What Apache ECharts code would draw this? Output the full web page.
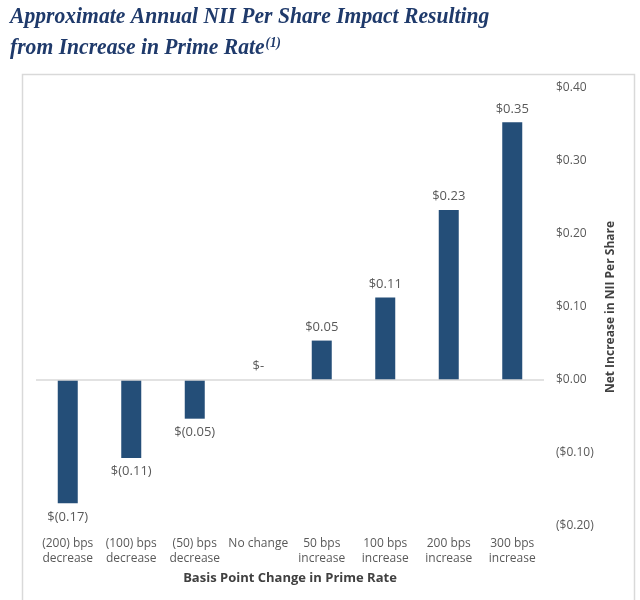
<!DOCTYPE html>
<html><head><meta charset="utf-8">
<script src="https://cdn.jsdelivr.net/npm/echarts@6/dist/echarts.min.js"></script>
<style>html,body{margin:0;padding:0;background:#fff}#c{width:640px;height:600px}</style>
</head><body><div id="c"></div>
<script>
const titleLines = ["Approximate Annual NII Per Share Impact Resulting", "from Increase in Prime Rate"];
const titleNote = "(1)";
const categories = ["(200) bps\ndecrease", "(100) bps\ndecrease", "(50) bps\ndecrease", "No change", "50 bps\nincrease", "100 bps\nincrease", "200 bps\nincrease", "300 bps\nincrease"];
const values = [-0.169, -0.107, -0.053, 0, 0.054, 0.113, 0.233, 0.353];
const valueLabels = ["$(0.17)", "$(0.11)", "$(0.05)", "$-", "$0.05", "$0.11", "$0.23", "$0.35"];
const yTickLabels = {"0.4": "$0.40", "0.3": "$0.30", "0.2": "$0.20", "0.1": "$0.10", "0": "$0.00", "-0.1": "($0.10)", "-0.2": "($0.20)"};
const xAxisTitle = "Basis Point Change in Prime Rate";
const yAxisTitle = "Net Increase in NII Per Share";

const font = "'Open Sans', 'Noto Sans', sans-serif";
const titleFont = "'Liberation Serif', serif";
const chart = echarts.init(document.getElementById('c'), null, {renderer: 'canvas'});
chart.setOption({
  animation: false,
  graphic: [
    {type: 'rect', left: 20, top: 72, shape: {width: 612, height: 540}, style: {fill: 'none', stroke: '#d9d9d9', lineWidth: 1.5}, z: -1},
    {type: 'text', x: 10, y: 6, scaleX: 0.94, style: {text: titleLines[0], fontFamily: titleFont, fontSize: 23, fontStyle: 'italic', fontWeight: 'bold', fill: '#1f3a6b'}},
    {type: 'text', x: 10, y: 36, scaleX: 0.94, style: {
      text: '{a|' + titleLines[1] + '}{b|' + titleNote + '}',
      rich: {
        a: {fontFamily: titleFont, fontSize: 23, fontStyle: 'italic', fontWeight: 'bold', fill: '#1f3a6b', color: '#1f3a6b'},
        b: {fontFamily: titleFont, fontSize: 14, fontStyle: 'italic', fontWeight: 'bold', fill: '#1f3a6b', color: '#1f3a6b', verticalAlign: 'top', padding: [0, 0, 10, 1]}
      }
    }}
  ],
  grid: {left: 36, right: 96, top: 88, bottom: 74},
  xAxis: {
    type: 'category', data: categories, position: 'bottom',
    axisLine: {show: false, onZero: false}, axisTick: {show: false},
    axisLabel: {color: '#595959', fontSize: 12, fontFamily: font, margin: 10, lineHeight: 15, interval: 0},
    name: xAxisTitle, nameLocation: 'middle', nameGap: 46,
    nameTextStyle: {color: '#404040', fontSize: 13, fontWeight: 'bold', fontFamily: font}
  },
  yAxis: {
    type: 'value', position: 'right', min: -0.2, max: 0.4, interval: 0.1,
    splitLine: {show: false}, axisLine: {show: false}, axisTick: {show: false},
    axisLabel: {color: '#595959', fontSize: 12, fontFamily: font, margin: 12,
      formatter: v => yTickLabels[String(Math.round(v * 10) / 10)] || ''},
    name: yAxisTitle, nameLocation: 'middle', nameGap: 48, nameRotate: 90,
    nameTextStyle: {color: '#404040', fontSize: 12, fontWeight: 'bold', fontFamily: font}
  },
  series: [{
    type: 'bar', barWidth: 20,
    data: values.map(v => ({value: v, label: {position: v < 0 ? 'bottom' : 'top'}})),
    itemStyle: {color: '#244e78'},
    label: {show: true, color: '#595959', fontSize: 13, fontFamily: font, distance: 7,
      formatter: p => valueLabels[p.dataIndex]},
    markLine: {silent: true, symbol: 'none', label: {show: false}, lineStyle: {color: '#d9d9d9', width: 1.5, type: 'solid'},
      data: [{yAxis: 0}]}
  }]
});
</script></body></html>
